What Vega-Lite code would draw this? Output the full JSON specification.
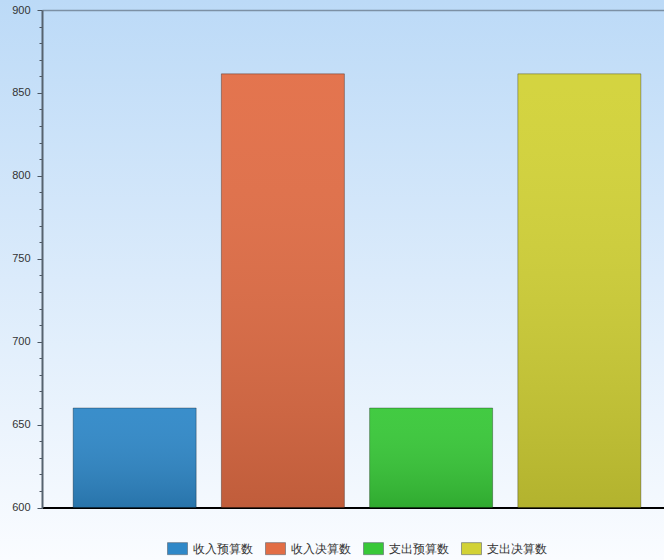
{
  "$schema": "https://vega.github.io/schema/vega-lite/v6.json",
  "width": 664,
  "height": 560,
  "autosize": {"type": "none"},
  "padding": 0,
  "background": "#ffffff",
  "config": {
    "view": {
      "stroke": null,
      "fill": {
        "gradient": "linear", "x1": 0, "y1": 0, "x2": 0, "y2": 1,
        "stops": [
          {"offset": 0, "color": "#bcdaf7"},
          {"offset": 0.5, "color": "#dbebfb"},
          {"offset": 1, "color": "#fafcff"}
        ]
      }
    },
    "font": "Liberation Sans"
  },
  "data": {
    "values": [
      {"项目": "收入预算数", "金额": 660},
      {"项目": "收入决算数", "金额": 861.5},
      {"项目": "支出预算数", "金额": 660},
      {"项目": "支出决算数", "金额": 861.5}
    ]
  },
  "encoding": {
    "x": {
      "field": "项目", "type": "nominal", "sort": null,
      "scale": {"range": [42, 672], "paddingInner": 0.17, "paddingOuter": 0.21},
      "axis": {"title": null, "labels": false, "ticks": false, "offset": -52.5, "domainColor": "#000000", "domainWidth": 2, "grid": false}
    },
    "y": {
      "field": "金额", "type": "quantitative",
      "scale": {"domain": [600, 900], "range": [507.5, 10], "nice": false, "zero": false},
      "axis": {
        "title": null, "orient": "left", "offset": -42,
        "values": [600, 610, 620, 630, 640, 650, 660, 670, 680, 690, 700, 710, 720, 730, 740, 750, 760, 770, 780, 790, 800, 810, 820, 830, 840, 850, 860, 870, 880, 890, 900],
        "labelExpr": "datum.value % 50 === 0 ? datum.label : ''",
        "labelOverlap": false,
        "labelFlush": false,
        "domainColor": "#56636f", "domainWidth": 2,
        "tickColor": "#4a5561", "tickWidth": 1,
        "tickSize": {"condition": {"test": "datum.value % 50 === 0", "value": 5}, "value": 3},
        "labelFont": "Liberation Sans", "labelFontSize": 11, "labelColor": "#333333", "labelPadding": 7,
        "grid": true,
        "gridColor": "#7c90a4", "gridWidth": 1.5,
        "gridOpacity": {"condition": {"test": "datum.value === 900", "value": 1}, "value": 0}
      }
    },
    "y2": {"datum": 600}
  },
  "layer": [
    {
      "mark": {"type": "bar"},
      "encoding": {
        "color": {
          "field": "项目", "type": "nominal", "sort": null,
          "scale": {
            "domain": ["收入预算数", "收入决算数", "支出预算数", "支出决算数"],
            "range": ["#2f88c8", "#e26d45", "#38c838", "#d2d236"]
          },
          "legend": {
            "title": null, "orient": "none", "direction": "horizontal",
            "legendX": 167, "legendY": 538,
            "symbolType": "M-1,-0.6H1V0.6H-1Z", "symbolSize": 400,
            "symbolStrokeColor": "#5a6470", "symbolStrokeWidth": 0.6,
            "labelFont": "Liberation Sans", "labelFontSize": 12, "labelColor": "#333333",
            "labelOffset": 5, "columnPadding": 11
          }
        }
      }
    },
    {
      "mark": {
        "type": "bar",
        "fill": {
          "gradient": "linear", "x1": 0, "y1": 0, "x2": 0, "y2": 1,
          "stops": [
            {"offset": 0, "color": "rgba(255,255,255,0.05)"},
            {"offset": 1, "color": "rgba(0,0,0,0.15)"}
          ]
        },
        "stroke": "#000000", "strokeOpacity": 0.3, "strokeWidth": 1
      },
      "encoding": {}
    }
  ]
}
